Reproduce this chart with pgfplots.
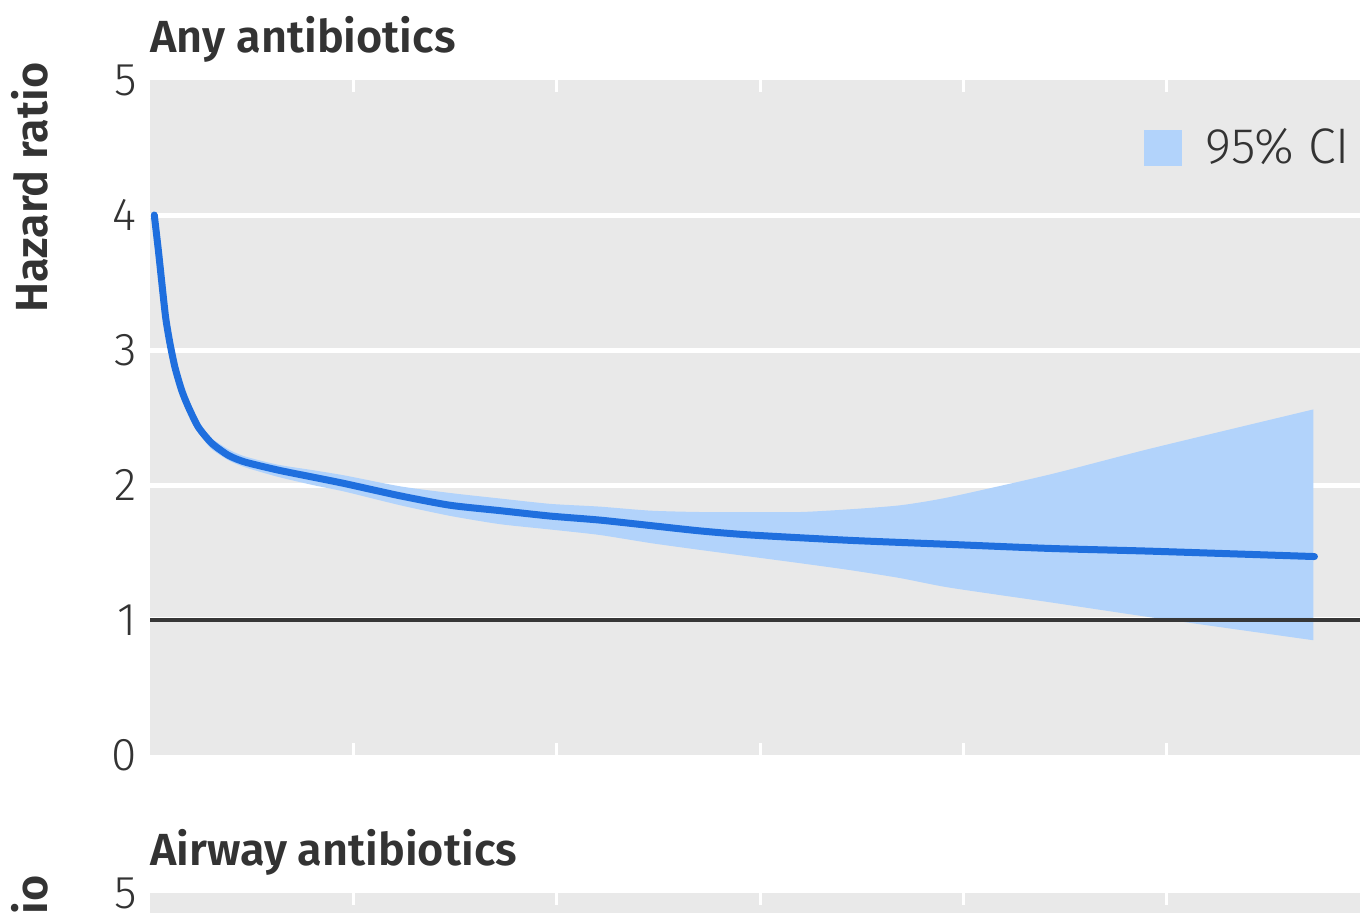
\documentclass[border=0pt]{standalone}
\usepackage{fontspec}
\setmainfont{Fira Sans}
\newfontfamily\lightfont{Fira Sans Light}
\newfontfamily\sbfont{Fira Sans SemiBold}
\usepackage{pgfplots}
\usepackage{pgfplotstable}
\pgfplotsset{compat=1.18}
\usepgfplotslibrary{fillbetween}
\definecolor{bggray}{RGB}{233,233,233}
\definecolor{cifill}{RGB}{178,211,251}
\definecolor{hrline}{RGB}{31,111,222}
\definecolor{textgray}{RGB}{51,51,51}
\definecolor{refline}{RGB}{55,55,55}

\pgfplotstableread{
x hr
0.021 4.00
0.041 3.74
0.058 3.50
0.077 3.24
0.098 3.05
0.123 2.87
0.156 2.70
0.188 2.58
0.237 2.43
0.303 2.31
0.385 2.22
0.467 2.17
0.631 2.11
0.795 2.06
0.959 2.01
1.229 1.92
1.475 1.85
1.721 1.81
1.967 1.77
2.212 1.74
2.458 1.70
2.704 1.66
2.950 1.63
3.441 1.59
3.933 1.56
4.425 1.53
4.916 1.51
5.725 1.47
}\hrdata

\pgfplotstableread{
x lo hi
0.19 2.55 2.61
0.24 2.39 2.47
0.30 2.27 2.35
0.39 2.18 2.26
0.47 2.13 2.21
0.63 2.06 2.15
0.80 2.00 2.11
0.96 1.95 2.07
1.23 1.85 1.99
1.48 1.77 1.94
1.72 1.71 1.90
1.97 1.67 1.86
2.21 1.63 1.84
2.46 1.57 1.81
2.70 1.52 1.80
2.95 1.47 1.80
3.20 1.42 1.80
3.44 1.37 1.82
3.69 1.31 1.85
3.93 1.24 1.91
4.43 1.13 2.08
4.92 1.02 2.27
5.72 0.85 2.56
}\cidata

\pgfplotsset{
  panel/.style={
    scale only axis,
    width=605pt, height=337.5pt,
    xmin=0, xmax=5.949, ymin=0, ymax=5,
    axis background/.style={fill=bggray},
    axis line style={draw=none},
    xtick={1,2,3,4,5}, xticklabels={},
    ytick={1,2,3,4},
    extra y ticks={0,5},
    extra y tick style={grid=none},
    tick align=inside,
    major tick length=6pt,
    xtick style={white, line width=1.5pt},
    ytick style={draw=none},
    ymajorgrids,
    grid style={white, line width=2.5pt},
    /pgf/number format/assume math mode=true,
    yticklabel style={font=\lightfont\fontsize{23}{23}\selectfont, text=textgray, inner sep=0pt, xshift=-6.5pt},
    title style={at={(axis description cs:0,1.0237)}, anchor=base west, inner sep=0pt, font=\sbfont\fontsize{22.5}{22.5}\selectfont, text=textgray},
    ylabel style={at={(axis description cs:-0.0992,1.0267)}, anchor=east, rotate=0, inner sep=0pt, font=\sbfont\fontsize{22.5}{22.5}\selectfont, text=textgray},
  }
}

\begin{document}
\begin{tikzpicture}
\begin{axis}[panel, at={(75pt,-377.5pt)}, anchor=south west,
  title={Any antibiotics}, ylabel={Hazard ratio},
  legend style={at={(axis description cs:0.992,0.90)}, anchor=east, draw=none, fill=none,
    font=\lightfont\fontsize{25}{25}\selectfont, text=textgray, inner sep=0pt,
    nodes={inner sep=0pt}, column sep=12pt},
]
\addplot[refline, line width=2pt, forget plot] coordinates {(0,1) (5.949,1)};
\addplot[name path=up, draw=none, smooth, tension=0.4, forget plot] table[x=x, y=hi] {\cidata};
\addplot[name path=low, draw=none, smooth, tension=0.4, forget plot] table[x=x, y=lo] {\cidata};
\addplot[fill=cifill, draw=none, forget plot] fill between[of=up and low];
\addplot[hrline, line width=3.5pt, line cap=round, line join=round, smooth, tension=0.4, forget plot] table[x=x, y=hr] {\hrdata};
\addlegendimage{legend image code/.code={\fill[cifill] (0pt,-8.75pt) rectangle (18.5pt,8.75pt);}}
\addlegendentry{95\% CI}
\end{axis}
\begin{axis}[panel, at={(75pt,-446.5pt)}, anchor=north west,
  title={Airway antibiotics}, ylabel={Hazard ratio}]
\addplot[refline, line width=2pt, forget plot] coordinates {(0,1) (5.949,1)};
\end{axis}
\pgfresetboundingbox
\path[use as bounding box] (0,0) rectangle (680pt,-456.5pt);
\end{tikzpicture}
\end{document}
